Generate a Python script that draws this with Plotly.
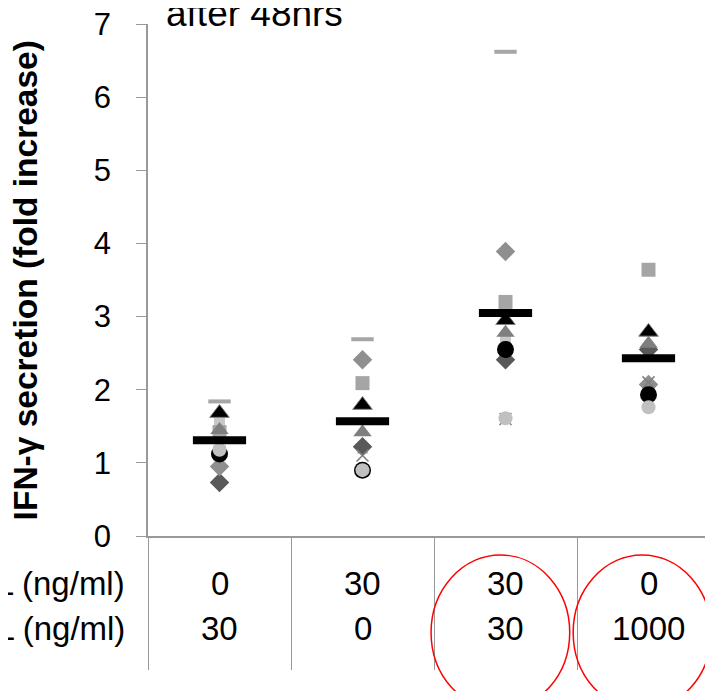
import plotly.graph_objects as go

categories = ["A", "B", "C", "D"]
row1_label = "4-1BBL (ng/ml)"
row2_label = "OX40L (ng/ml)"
row1_values = ["0", "30", "30", "0"]
row2_values = ["30", "0", "30", "1000"]
y_ticks = [0, 1, 2, 3, 4, 5, 6, 7]

light_square = [1.55, 1.20, 2.67, 2.52]
dark_diamond = [0.73, 1.22, 2.41, 2.55]
gray_square = [1.42, 2.09, 3.20, 3.64]
gray_triangle = [1.45, 1.42, 2.78, 2.63]
black_triangle = [1.68, 1.79, 2.95, 2.79]
mid_diamond = [0.95, 2.41, 3.89, 2.07]
gray_x = [1.15, 1.10, 1.60, 2.10]
black_circle = [1.12, 0.90, 2.55, 1.93]
light_circle = [1.18, 0.90, 1.61, 1.76]
light_dash = [1.84, 2.69, 6.62, 2.45]
means = [1.31, 1.57, 3.05, 2.43]

xs = list(range(len(categories)))

fig = go.Figure()

def add(vals, symbol, size, color, lw=0, lc=None):
    fig.add_trace(go.Scatter(
        x=xs, y=vals, mode="markers", showlegend=False,
        marker=dict(symbol=symbol, size=size, color=color,
                    line=dict(width=lw, color=lc if lc else color))))

add(light_square, "square", 11, "#c8c8c8")
add(dark_diamond, "diamond", 15, "#595959")
add(gray_square, "square", 14, "#a5a5a5")
add(gray_triangle, "triangle-up", 16, "#7f7f7f")
add(black_triangle, "triangle-up", 17, "#000000", 1, "#808080")
add(mid_diamond, "diamond", 15, "#8f8f8f")
add(gray_x, "x-thin-open", 12, "#808080", 1.5, "#808080")
add(black_circle, "circle", 17, "#000000")
add(light_circle, "circle", 14, "#c0c0c0")
add(light_dash, "line-ew", 16, "#a6a6a6", 4, "#a6a6a6")
add(means, "line-ew", 38, "#000000", 8, "#000000")

font_main = "Liberation Sans"
tfont = dict(family=font_main, size=33, color="#000")

annotations = []
for i, (a, b) in enumerate(zip(row1_values, row2_values)):
    annotations.append(dict(x=xs[i], y=-0.092, xref="x", yref="paper", text=a,
                            xanchor="center", yanchor="middle", showarrow=False, font=tfont))
    annotations.append(dict(x=xs[i], y=-0.180, xref="x", yref="paper", text=b,
                            xanchor="center", yanchor="middle", showarrow=False, font=tfont))
annotations.append(dict(x=-0.037, y=-0.092, xref="paper", yref="paper", text=row1_label,
                        xanchor="right", yanchor="middle", showarrow=False, font=tfont))
annotations.append(dict(x=-0.037, y=-0.180, xref="paper", yref="paper", text=row2_label,
                        xanchor="right", yanchor="middle", showarrow=False, font=tfont))
annotations.append(dict(x=0.028, y=0.977, xref="paper", yref="paper", text="after 48hrs",
                        xanchor="left", yanchor="bottom", showarrow=False,
                        font=dict(family=font_main, size=37, color="#000")))
annotations.append(dict(x=-0.214, y=0.5, xref="paper", yref="paper",
                        text="<b>IFN-γ secretion (fold increase)</b>", textangle=-90,
                        xanchor="center", yanchor="middle",
                        showarrow=False, font=dict(family=font_main, size=33.5, color="#000")))

shapes = [
    dict(type="circle", xref="paper", yref="paper", x0=0.494, x1=0.736, y0=-0.037, y1=-0.34,
         line=dict(color="red", width=1.5)),
    dict(type="circle", xref="paper", yref="paper", x0=0.742, x1=0.983, y0=-0.037, y1=-0.34,
         line=dict(color="red", width=1.5)),
]

fig.update_layout(
    width=713, height=691,
    margin=dict(l=140, r=0, t=16, b=163),
    plot_bgcolor="white", paper_bgcolor="white",
    annotations=annotations, shapes=shapes,
    xaxis=dict(range=[-0.5, 3.507], showgrid=False, zeroline=False,
               showline=True, linecolor="#999999", linewidth=1.5,
               tickmode="array", tickvals=[-0.5, 0.5, 1.5, 2.5], ticks="outside",
               ticklen=132, tickcolor="#999999", tickwidth=1, showticklabels=False),
    yaxis=dict(range=[0, 7], showgrid=False, zeroline=False,
               showline=True, linecolor="#999999", linewidth=1.5,
               tickmode="array", tickvals=y_ticks, ticks="outside", ticklen=10,
               tickcolor="#999999", tickwidth=1, ticklabelstandoff=19,
               ticklabeloverflow="allow",
               tickfont=dict(family=font_main, size=31, color="#000")),
)

fig.write_html("out.html")
